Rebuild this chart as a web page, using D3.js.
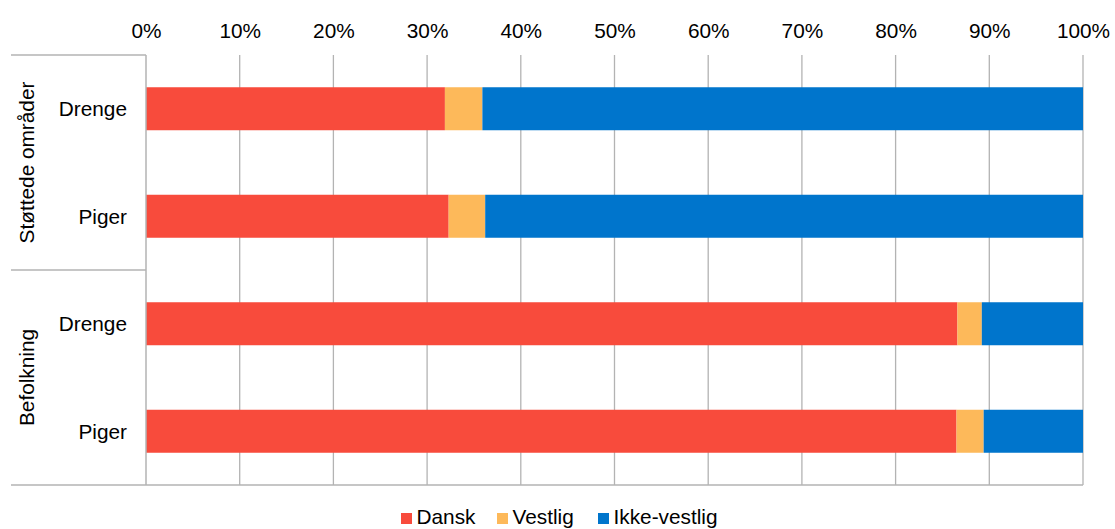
<!DOCTYPE html>
<html><head><meta charset="utf-8">
<script src="https://cdn.jsdelivr.net/npm/d3@7"></script>
<style>body{margin:0;background:#fff}svg{display:block;font-family:"Liberation Sans",Arial,sans-serif}</style>
</head><body><svg id="c" width="1115" height="529"></svg>
<script>
const groups = ["Støttede områder", "Befolkning"];
const categories = ["Drenge", "Piger", "Drenge", "Piger"];
const categoryGroup = [0, 0, 1, 1];
const seriesNames = ["Dansk", "Vestlig", "Ikke-vestlig"];
const dansk = [31.9, 32.3, 86.6, 86.5];
const vestlig = [4.0, 3.9, 2.6, 2.9];
const ikkeVestlig = [64.1, 63.8, 10.8, 10.6];
const colors = ["#F84B3C", "#FDB95A", "#0075CC"];
const tickValues = [0,10,20,30,40,50,60,70,80,90,100];

const FS = "20.8px";
const svg = d3.select("#c");
const L = 146, R = 1083, T = 55, B = 485;
const x = d3.scaleLinear().domain([0,100]).range([L,R]);
const y = d3.scaleBand().domain(d3.range(categories.length)).range([T,B]).paddingInner(0.6).paddingOuter(0.3);
const gridCol = "#b3b3b3";

// grid
svg.append("g").selectAll("line").data(tickValues.slice(1)).join("line")
  .attr("x1", d=>x(d)).attr("x2", d=>x(d)).attr("y1", T).attr("y2", B)
  .attr("stroke", gridCol).attr("stroke-width", 1.3);

// top axis labels
const ax = d3.axisTop(x).tickValues(tickValues).tickFormat(d=>d+"%").tickSize(0).tickPadding(0);
const axg = svg.append("g").attr("transform", `translate(0,37.5)`).call(ax);
axg.select(".domain").remove();
axg.selectAll("text").attr("font-size", FS).attr("fill", "#000").attr("font-family", '"Liberation Sans",Arial,sans-serif').attr("dy", 0);

// stacked bars
const rows = categories.map((c,i)=>({i, v:[dansk[i], vestlig[i], ikkeVestlig[i]]}));
const sg = svg.append("g");
rows.forEach(r=>{
  let acc = 0;
  r.v.forEach((v,k)=>{
    sg.append("rect").attr("x", x(acc)).attr("width", x(acc+v)-x(acc))
      .attr("y", y(r.i)).attr("height", y.bandwidth()).attr("fill", colors[k]);
    acc += v;
  });
});

// category axis frame
const fr = svg.append("g").attr("stroke", gridCol).attr("stroke-width", 1.5).attr("fill","none");
fr.append("line").attr("x1", L).attr("x2", L).attr("y1", T).attr("y2", B);
fr.append("line").attr("x1", 11).attr("x2", L).attr("y1", T).attr("y2", T);
const mid = (y(1)+y.bandwidth()+y(2))/2;
fr.append("line").attr("x1", 11).attr("x2", L).attr("y1", mid).attr("y2", mid);
fr.append("line").attr("x1", 11).attr("x2", R).attr("y1", B).attr("y2", B);

// category labels
svg.append("g").selectAll("text").data(categories).join("text")
  .attr("x", 127).attr("y", (d,i)=>y(i)+y.bandwidth()/2).attr("dy","0.35em")
  .attr("text-anchor","end").attr("font-size",FS).text(d=>d);

// group labels
groups.forEach((g,gi)=>{
  const y0 = gi===0 ? T : mid, y1 = gi===0 ? mid : B;
  const cy = (y0+y1)/2;
  svg.append("text").attr("transform", `translate(27,${cy}) rotate(-90)`)
    .attr("dy","0.35em").attr("text-anchor","middle").attr("font-size",FS).text(g);
});

// legend
const legX = [401, 497, 598];
const lg = svg.append("g");
seriesNames.forEach((s,k)=>{
  lg.append("rect").attr("x", legX[k]).attr("y", 513).attr("width", 11).attr("height", 11).attr("fill", colors[k]);
  lg.append("text").attr("x", legX[k]+15.5).attr("y", 524.3).attr("font-size",FS).text(s);
});
</script></body></html>
